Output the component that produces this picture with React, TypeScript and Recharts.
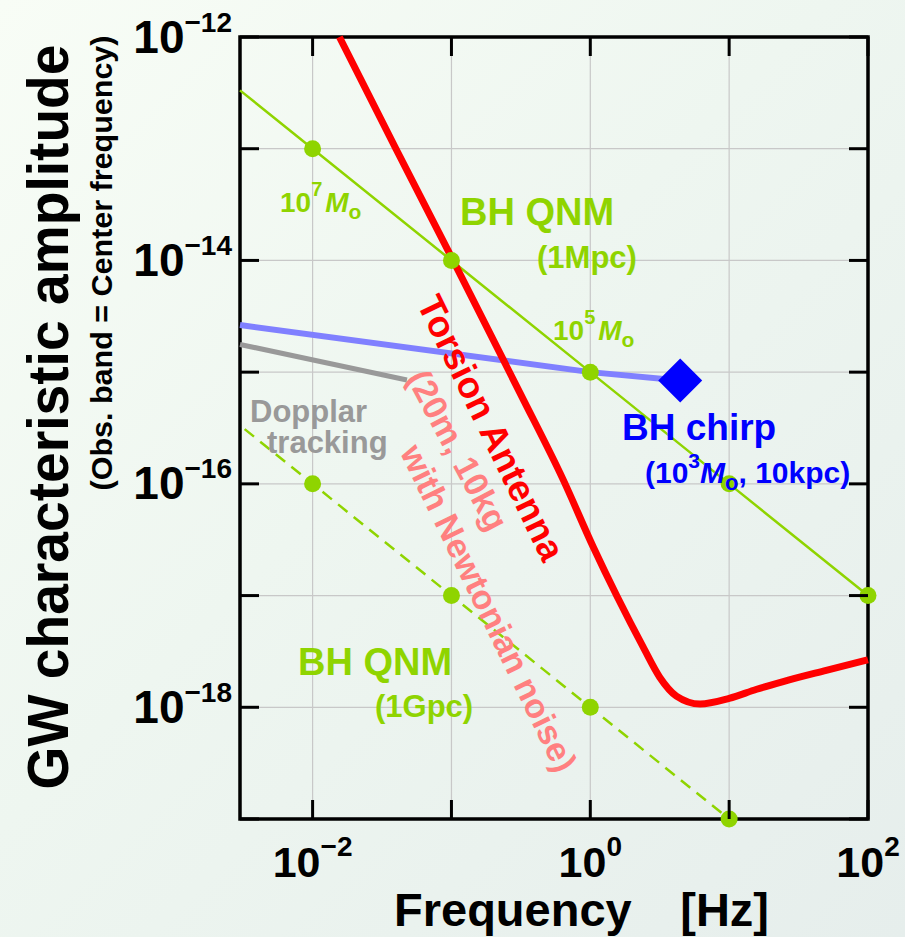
import React from 'react';
import {
  ComposedChart,
  Line,
  Scatter,
  XAxis,
  YAxis,
  CartesianGrid,
  ReferenceArea,
} from 'recharts';

// ---------- data ----------
const xTicks = [0.01, 0.1, 1, 10, 100];
const xLabelTicks = [0.01, 1, 100];
const xLabelExponents = ['−2', '0', '2'];

const yTicks = [1e-19, 1e-18, 1e-17, 1e-16, 1e-15, 1e-14, 1e-13, 1e-12];
const yLabelTicks = [1e-12, 1e-14, 1e-16, 1e-18];
const yLabelExponents = ['−12', '−14', '−16', '−18'];

// BH QNM (1 Mpc) – solid green line
const qnm1MpcFreq = [0.003, 0.01, 0.1, 1, 10, 100];
const qnm1MpcAmp = [3.33e-13, 1e-13, 1e-14, 1e-15, 1e-16, 1e-17];
const qnm1MpcDotFreq = [0.01, 0.1, 1, 10, 100];
const qnm1MpcDotAmp = [1e-13, 1e-14, 1e-15, 1e-16, 1e-17];

// BH QNM (1 Gpc) – dashed green line
const qnm1GpcFreq = [0.00324, 0.01, 0.1, 1, 10];
const qnm1GpcAmp = [3.09e-16, 1e-16, 1e-17, 1e-18, 1e-19];
const qnm1GpcDotFreq = [0.01, 0.1, 1, 10];
const qnm1GpcDotAmp = [1e-16, 1e-17, 1e-18, 1e-19];

// BH chirp
const chirpFreq = [0.003, 1, 4.44];
const chirpAmp = [2.64e-15, 1.0e-15, 8.4e-16];
const chirpEndFreq = [4.44];
const chirpEndAmp = [8.4e-16];

// Doppler tracking
const dopplerFreq = [0.003, 0.0478];
const dopplerAmp = [1.77e-15, 8.5e-16];

// Torsion antenna sensitivity
const torsionFreq = [0.0156, 0.0398, 0.1, 0.316, 0.64, 1.05, 1.56, 2.4, 3.16, 4.17, 6.17, 10, 15.8, 24.5, 50, 100];
const torsionAmp = [1.0e-12, 1.0e-13, 1.07e-14, 6.3e-16, 1.08e-16, 2.72e-17, 9.8e-18, 3.47e-18, 1.86e-18, 1.26e-18, 1.07e-18, 1.2e-18, 1.45e-18, 1.7e-18, 2.14e-18, 2.66e-18];

const toPoints = (f: number[], h: number[]) => f.map((v, i) => ({ f: v, h: h[i] }));

// ---------- layout / style ----------
const W = 905;
const H = 937;
const PLOT_LEFT = 240;
const PLOT_TOP = 37;
const PLOT_RIGHT = 868;
const TICK_LEN = 19;
const FONT = "'Liberation Sans', Arial, Helvetica, sans-serif";
const GREEN = '#8fd400';
const SALMON = '#ff8080';

const XTick = (props: any) => {
  const { x, y, payload } = props;
  const idx = xLabelTicks.indexOf(payload.value);
  return (
    <g>
      <line x1={x} y1={y} x2={x} y2={y - TICK_LEN} stroke="#000" strokeWidth={3} />
      <line x1={x} y1={PLOT_TOP} x2={x} y2={PLOT_TOP + TICK_LEN} stroke="#000" strokeWidth={3} />
      {idx >= 0 && (
        <text x={x} y={y + 58} textAnchor="middle" fontFamily={FONT} fontWeight="bold" fontSize={43} fill="#000">
          10
          <tspan dy={-21} fontSize={28}>
            {xLabelExponents[idx]}
          </tspan>
        </text>
      )}
    </g>
  );
};

const YTick = (props: any) => {
  const { x, y, payload } = props;
  const idx = yLabelTicks.indexOf(payload.value);
  return (
    <g>
      <line x1={x} y1={y} x2={x + TICK_LEN} y2={y} stroke="#000" strokeWidth={3} />
      <line x1={PLOT_RIGHT - TICK_LEN} y1={y} x2={PLOT_RIGHT} y2={y} stroke="#000" strokeWidth={3} />
      {idx >= 0 && (
        <text x={x - 8} y={y + 15.5} textAnchor="end" fontFamily={FONT} fontWeight="bold" fontSize={46} fill="#000">
          10
          <tspan dy={-21} fontSize={28}>
            {yLabelExponents[idx]}
          </tspan>
        </text>
      )}
    </g>
  );
};

const GreenDot = (p: any) => <circle cx={p.cx} cy={p.cy} r={8.5} fill={GREEN} />;
const BlueDiamond = (p: any) => (
  <polygon
    points={`${p.cx},${p.cy - 22} ${p.cx + 22},${p.cy} ${p.cx},${p.cy + 22} ${p.cx - 22},${p.cy}`}
    fill="#0000ff"
  />
);

const Annotations = () => (
  <svg
    width={W}
    height={H}
    style={{ position: 'absolute', left: 0, top: 0, pointerEvents: 'none' }}
    fontFamily={FONT}
    fontWeight="bold"
  >
    {/* axis titles */}
    <text
      transform="translate(68,417) rotate(-90)"
      textAnchor="middle"
      fontSize={57}
      fill="#000"
      textLength={745}
      lengthAdjust="spacingAndGlyphs"
    >
      GW characteristic amplitude
    </text>
    <text
      transform="translate(112,263) rotate(-90)"
      textAnchor="middle"
      fontSize={30}
      fill="#000"
      textLength={455}
      lengthAdjust="spacingAndGlyphs"
    >
      (Obs. band = Center frequency)
    </text>
    <text y={926} fontSize={47} fill="#000">
      <tspan x={394} textAnchor="start">Frequency</tspan>
      <tspan x={769} textAnchor="end">[Hz]</tspan>
    </text>

    {/* green annotations */}
    <text x={280} y={212} fontSize={28} fill={GREEN}>
      10
      <tspan dy={-16} fontSize={20}>7</tspan>
      <tspan dy={16} dx={3} fontStyle="italic">M</tspan>
      <tspan dy={7} fontSize={21}>o</tspan>
    </text>
    <text x={460} y={225} fontSize={38} fill={GREEN}>BH QNM</text>
    <text x={537} y={268} fontSize={31} fill={GREEN}>(1Mpc)</text>
    <text x={553} y={340} fontSize={28} fill={GREEN}>
      10
      <tspan dy={-16} fontSize={20}>5</tspan>
      <tspan dy={16} dx={3} fontStyle="italic">M</tspan>
      <tspan dy={7} fontSize={21}>o</tspan>
    </text>
    <text x={298} y={675} fontSize={38} fill={GREEN}>BH QNM</text>
    <text x={375} y={717} fontSize={31} fill={GREEN}>(1Gpc)</text>

    {/* Doppler */}
    <text x={250} y={422} fontSize={31} fill="#999999">Dopplar</text>
    <text x={267} y={453} fontSize={31} fill="#999999">tracking</text>

    {/* chirp */}
    <text x={622} y={440} fontSize={37} fill="#0000ff">BH chirp</text>
    <text x={645} y={483} fontSize={30} fill="#0000ff">
      (10
      <tspan dy={-15} fontSize={21}>3</tspan>
      <tspan dy={15} fontStyle="italic">M</tspan>
      <tspan dy={7} fontSize={22}>o</tspan>
      <tspan dy={-7}>, 10kpc)</tspan>
    </text>

    {/* torsion antenna */}
    <text
      transform="translate(491,428) rotate(64)"
      textAnchor="middle"
      dominantBaseline="central"
      fontSize={37}
      fill="#ff0000"
    >
      Torsion Antenna
    </text>
    <text
      transform="translate(458,450) rotate(62)"
      textAnchor="middle"
      dominantBaseline="central"
      fontSize={34}
      fill={SALMON}
    >
      (20m, 10kg
    </text>
    <text
      transform="translate(489,608) rotate(64)"
      textAnchor="middle"
      dominantBaseline="central"
      fontSize={34}
      fill={SALMON}
    >
      with Newtonian noise)
    </text>
  </svg>
);

export default function App() {
  return (
    <div
      style={{
        position: 'absolute',
        left: 0,
        top: 0,
        width: W,
        height: H,
        overflow: 'hidden',
        background: 'linear-gradient(135deg, #f8fdf6 0%, #eef6f0 45%, #e6eeec 100%)',
      }}
    >
      <ComposedChart width={W} height={H} margin={{ top: PLOT_TOP, right: W - PLOT_RIGHT, bottom: 0, left: 0 }}>
        <CartesianGrid stroke="#c8c8c8" strokeWidth={1.2} />
        <XAxis
          dataKey="f"
          type="number"
          scale="log"
          domain={[0.003, 100]}
          ticks={xTicks}
          interval={0}
          height={118}
          tickSize={0}
          tickMargin={0}
          tickLine={false}
          axisLine={false}
          tick={<XTick />}
        />
        <YAxis
          dataKey="h"
          type="number"
          scale="log"
          domain={[1e-19, 1e-12]}
          ticks={yTicks}
          interval={0}
          width={PLOT_LEFT}
          tickSize={0}
          tickMargin={0}
          tickLine={false}
          axisLine={false}
          tick={<YTick />}
        />
        <ReferenceArea x1={0.003} x2={100} y1={1e-19} y2={1e-12} fill="none" stroke="#000" strokeWidth={3.5} ifOverflow="visible" />
        <Line data={toPoints(qnm1MpcFreq, qnm1MpcAmp)} dataKey="h" type="linear" stroke={GREEN} strokeWidth={2.5} dot={false} isAnimationActive={false} />
        <Line data={toPoints(qnm1GpcFreq, qnm1GpcAmp)} dataKey="h" type="linear" stroke={GREEN} strokeWidth={2.5} strokeDasharray="12 8" dot={false} isAnimationActive={false} />
        <Line data={toPoints(dopplerFreq, dopplerAmp)} dataKey="h" type="linear" stroke="#999999" strokeWidth={5} dot={false} isAnimationActive={false} />
        <Line data={toPoints(chirpFreq, chirpAmp)} dataKey="h" type="linear" stroke="#8080ff" strokeWidth={6} dot={false} isAnimationActive={false} />
        <Scatter data={toPoints(qnm1MpcDotFreq, qnm1MpcDotAmp)} dataKey="h" shape={<GreenDot />} isAnimationActive={false} />
        <Scatter data={toPoints(qnm1GpcDotFreq, qnm1GpcDotAmp)} dataKey="h" shape={<GreenDot />} isAnimationActive={false} />
        <Line data={toPoints(torsionFreq, torsionAmp)} dataKey="h" type="monotone" stroke="#ff0000" strokeWidth={7} dot={false} isAnimationActive={false} />
        <Scatter data={toPoints(chirpEndFreq, chirpEndAmp)} dataKey="h" shape={<BlueDiamond />} isAnimationActive={false} />
      </ComposedChart>
      <Annotations />
    </div>
  );
}
